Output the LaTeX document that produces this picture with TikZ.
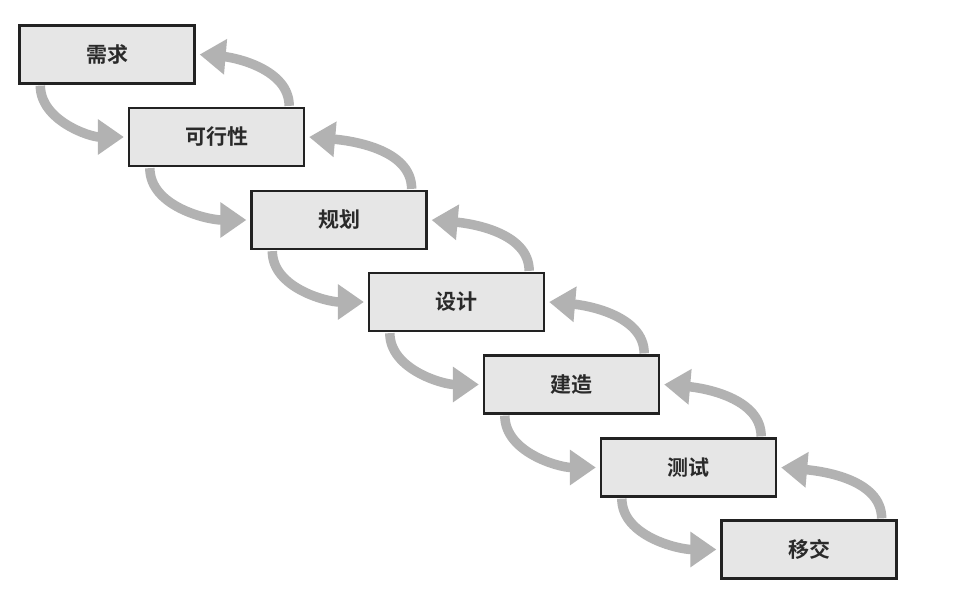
\documentclass[tikz,border=0pt]{standalone}
\usepackage{fontspec}
\newfontfamily\cjk{Noto Sans CJK SC Bold}
\usetikzlibrary{arrows.meta}
\definecolor{boxfill}{HTML}{E6E6E6}
\definecolor{boxline}{HTML}{222222}
\definecolor{arrowgray}{HTML}{B2B2B2}
\definecolor{txt}{HTML}{2A2A2A}
\tikzset{
  stage/.style={draw=boxline, line width=2.3pt, fill=boxfill, minimum width=175pt, minimum height=58pt, inner sep=0pt,
    font=\cjk\fontsize{21}{21}\selectfont, text=txt},
  flow/.style={draw=arrowgray, line width=9.5pt, -{Triangle[length=26pt,width=34pt]}},
}
\begin{document}
\begin{tikzpicture}[x=1pt,y=-1pt]
\useasboundingbox (0,0) rectangle (956,606);
\fill[white] (0,0) rectangle (956,606);
\node[stage] (s1) at (107,54.5) {需求};
\node[stage] (s2) at (216.5,137) {可行性};
\node[stage] (s3) at (339,220) {规划};
\node[stage] (s4) at (456.5,302) {设计};
\node[stage] (s5) at (571.5,384.5) {建造};
\node[stage] (s6) at (688.5,467.5) {测试};
\node[stage] (s7) at (809,549.5) {移交};
\foreach \a/\b in {s1/s2,s2/s3,s3/s4,s4/s5,s5/s6,s6/s7}{
  \draw[flow] ([xshift=22pt,yshift=-1pt]\a.south west) to[out=-90,in=180,looseness=0.9] ([xshift=-4pt]\b.west);
  \draw[flow] ([xshift=-16pt,yshift=1pt]\b.north east) to[out=90,in=-5,looseness=0.9] ([xshift=4pt]\a.east);
}
\end{tikzpicture}
\end{document}
